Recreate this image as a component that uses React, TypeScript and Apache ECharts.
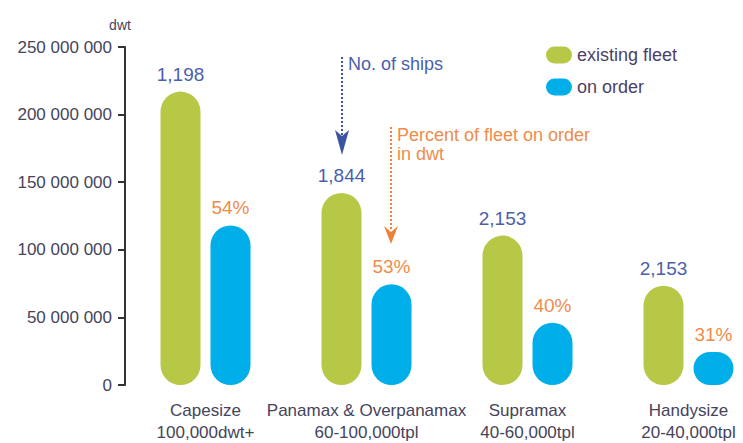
import React, { useEffect, useRef } from "react";
import * as echarts from "echarts";

const categoryNames = ["Capesize", "Panamax & Overpanamax", "Supramax", "Handysize"];
const categoryRanges = ["100,000dwt+", "60-100,000tpl", "40-60,000tpl", "20-40,000tpl"];
const existingFleet = [217000000, 142000000, 110500000, 73500000];
const onOrder = [118000000, 74500000, 46000000, 24500000];
const shipCounts = ["1,198", "1,844", "2,153", "2,153"];
const orderPercents = ["54%", "53%", "40%", "31%"];
const yTickStep = 50000000;
const yMax = 250000000;

const FONT = "'Liberation Sans', Arial, sans-serif";
const GREEN = "#b7c846";
const BLUE = "#00aeea";
const NAVY = "#4a5fab";
const ORANGE = "#ef8c4a";
const TEXT = "#45445a";

export default function App() {
  const ref = useRef<HTMLDivElement>(null);
  useEffect(() => {
    if (!ref.current) return;
    const chart = echarts.init(ref.current, null, { renderer: "svg" });
    const pill = "path://M8.5,0 L17.5,0 A8.5,8.5 0 0 1 17.5,17 L8.5,17 A8.5,8.5 0 0 1 8.5,0 Z";
    chart.setOption({
      animation: false,
      backgroundColor: "#ffffff",
      textStyle: { fontFamily: FONT },
      grid: { left: 125, right: 1, top: 47, bottom: 57, containLabel: false },
      legend: {
        orient: "vertical",
        left: 546,
        top: 46,
        padding: 0,
        itemWidth: 26,
        itemHeight: 17,
        itemGap: 14,
        textStyle: { fontSize: 18, color: "#4b3f6a", fontFamily: FONT },
        data: [
          { name: "existing fleet", icon: pill },
          { name: "on order", icon: pill },
        ],
      },
      xAxis: {
        type: "category",
        data: categoryNames.map((n, i) => n + "\n" + categoryRanges[i]),
        axisLine: { show: false },
        axisTick: { show: false },
        axisLabel: {
          interval: 0,
          fontSize: 17,
          lineHeight: 22,
          margin: 14,
          color: TEXT,
          fontFamily: FONT,
        },
      },
      yAxis: {
        type: "value",
        min: 0,
        max: yMax,
        interval: yTickStep,
        name: "dwt",
        nameGap: 15,
        nameTextStyle: { fontSize: 14, color: TEXT, fontFamily: FONT, padding: [0, 10, 0, 0] },
        splitLine: { show: false },
        axisLine: { show: true, lineStyle: { color: "#333333", width: 2 } },
        axisTick: { show: true, inside: false, length: 7, lineStyle: { color: "#333333", width: 2 } },
        axisLabel: {
          margin: 13,
          fontSize: 17,
          color: TEXT,
          fontFamily: FONT,
          formatter: (v: number) => String(v).replace(/\B(?=(\d{3})+(?!\d))/g, " "),
        },
      },
      series: [
        {
          name: "existing fleet",
          type: "bar",
          data: existingFleet,
          barWidth: 40,
          barGap: "25%",
          itemStyle: { color: GREEN, borderRadius: 20 },
          label: {
            show: true,
            position: "top",
            distance: 8,
            fontSize: 19,
            color: NAVY,
            fontFamily: FONT,
            formatter: (p: any) => shipCounts[p.dataIndex],
          },
        },
        {
          name: "on order",
          type: "bar",
          data: onOrder,
          barWidth: 40,
          barGap: "25%",
          itemStyle: { color: BLUE, borderRadius: 20 },
          label: {
            show: true,
            position: "top",
            distance: 8,
            fontSize: 19,
            color: ORANGE,
            fontFamily: FONT,
            formatter: (p: any) => orderPercents[p.dataIndex],
          },
        },
      ],
      graphic: [
        {
          type: "line",
          shape: { x1: 342, y1: 57, x2: 342, y2: 138 },
          style: { stroke: "#3d55a0", lineWidth: 2, lineDash: [2, 2] },
        },
        {
          type: "polygon",
          shape: { points: [[335, 130], [342, 136], [349, 130], [342, 155]] },
          style: { fill: "#3d55a0" },
        },
        {
          type: "text",
          left: 348,
          top: 55,
          style: { text: "No. of ships", fontSize: 18, fill: NAVY, fontFamily: FONT },
        },
        {
          type: "line",
          shape: { x1: 391, y1: 127, x2: 391, y2: 230 },
          style: { stroke: "#ee8236", lineWidth: 2, lineDash: [2, 2] },
        },
        {
          type: "polygon",
          shape: { points: [[384, 226], [391, 232], [398, 226], [391, 244]] },
          style: { fill: "#ee8236" },
        },
        {
          type: "text",
          left: 397,
          top: 126,
          style: { text: "Percent of fleet on order", fontSize: 18, fill: ORANGE, fontFamily: FONT },
        },
        {
          type: "text",
          left: 397,
          top: 145,
          style: { text: "in dwt", fontSize: 18, fill: ORANGE, fontFamily: FONT },
        },
      ],
    });
    return () => chart.dispose();
  }, []);
  return (
    <div
      ref={ref}
      style={{ position: "fixed", left: 0, top: 0, width: 770, height: 443, background: "#fff" }}
    />
  );
}
